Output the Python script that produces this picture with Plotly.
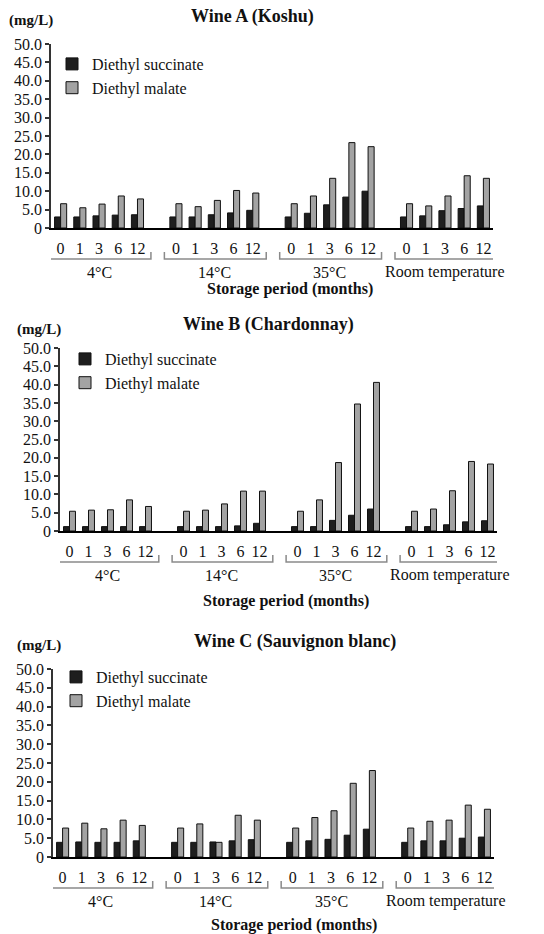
import plotly.graph_objects as go

W, H = 544, 934

months = ["0", "1", "3", "6", "12"]
temps = ["4°C", "14°C", "35°C", "Room temperature"]
series_names = ["Diethyl succinate", "Diethyl malate"]
titles = ["Wine A (Koshu)", "Wine B (Chardonnay)", "Wine C (Sauvignon blanc)"]
y_label = "(mg/L)"
x_label = "Storage period (months)"

# values: 4 temperature groups x 5 months, in order
a_succinate = [3.0, 3.0, 3.3, 3.5, 3.6, 3.0, 3.0, 3.6, 4.1, 4.8, 3.0, 4.0, 6.3, 8.4, 10.0, 3.0, 3.3, 4.7, 5.3, 6.0]
a_malate = [6.6, 5.5, 6.5, 8.7, 7.9, 6.6, 5.8, 7.5, 10.2, 9.5, 6.6, 8.7, 13.5, 23.2, 22.1, 6.6, 6.0, 8.7, 14.2, 13.5]
b_succinate = [1.2, 1.2, 1.2, 1.2, 1.2, 1.2, 1.2, 1.2, 1.4, 2.1, 1.2, 1.2, 2.9, 4.3, 6.0, 1.2, 1.2, 1.7, 2.5, 2.8]
b_malate = [5.4, 5.7, 5.8, 8.5, 6.7, 5.4, 5.7, 7.4, 10.9, 10.9, 5.4, 8.5, 18.7, 34.7, 40.6, 5.4, 6.0, 11.0, 19.0, 18.3]
c_succinate = [3.9, 4.0, 3.9, 3.9, 4.3, 3.9, 3.9, 4.0, 4.3, 4.6, 3.9, 4.3, 4.7, 5.8, 7.4, 3.9, 4.3, 4.3, 5.0, 5.3]
c_malate = [7.7, 9.0, 7.5, 9.8, 8.4, 7.7, 8.8, 3.9, 11.1, 9.8, 7.7, 10.5, 12.3, 19.6, 23.0, 7.7, 9.5, 9.8, 13.8, 12.7]

y_tickvals = [0, 5, 10, 15, 20, 25, 30, 35, 40, 45, 50]
y_ticktext = ["0", "5.0", "10.0", "15.0", "20.0", "25.0", "30.0", "35.0", "40.0", "45.0", "50.0"]

panels_data = [(a_succinate, a_malate), (b_succinate, b_malate), (c_succinate, c_malate)]

# layout geometry in pixels (top, bottom, left, right of plot area)
geo = [
    dict(top=44, bottom=228, left=51, right=493, title_x=252, title_y=16, unit_x=31, unit_y=20,
         leg_x=52, leg_y=47, xl_x=290, xl_off=61),
    dict(top=348, bottom=531, left=60, right=497, title_x=268, title_y=325, unit_x=39, unit_y=329,
         leg_x=65, leg_y=342, xl_x=286, xl_off=70),
    dict(top=669, bottom=857, left=53, right=494, title_x=295, title_y=641, unit_x=39, unit_y=645,
         leg_x=56, leg_y=660, xl_x=294, xl_off=68),
]

FONT = "Liberation Serif"
colors = ["#1e1e1e", "#a3a3a3"]

def px(x):
    return x / W

def py(y):
    return 1 - y / H

# positions: each temperature group of 5 months, one empty slot between groups
positions = [g * (len(months) + 1) + i for g in range(len(temps)) for i in range(len(months))]
tick_text = [m for _ in temps for m in months]

fig = go.Figure()
annotations = []
shapes = []
layout_axes = {}

def ann(text, x, y, xref, size, bold=False):
    return dict(text=("<b>" + text + "</b>") if bold else text, x=x, y=y, xref=xref, yref="paper",
                xanchor="center", yanchor="middle", showarrow=False,
                font=dict(family=FONT, size=size, color="#111"))

for p, (vals, g) in enumerate(zip(panels_data, geo)):
    n = "" if p == 0 else str(p + 1)
    xa, ya = "x" + n, "y" + n
    leg = "legend" + n
    for s, (name, v) in enumerate(zip(series_names, vals)):
        fig.add_trace(go.Bar(
            x=positions, y=v, name=name, xaxis=xa, yaxis=ya, legend=leg,
            marker=dict(color=colors[s], line=dict(color="#111", width=1)),
        ))
    layout_axes["xaxis" + n] = dict(
        domain=[px(g["left"]), px(g["right"])], anchor=ya, range=[-0.5, len(positions) + len(temps) - 1 - 0.5],
        tickvals=positions, ticktext=tick_text, ticks="", showgrid=False, zeroline=False,
        showline=True, linecolor="#000", linewidth=2.2, automargin=False,
        tickfont=dict(family=FONT, size=16, color="#111"), ticklabelstandoff=5,
    )
    layout_axes["yaxis" + n] = dict(
        domain=[py(g["bottom"]), py(g["top"])], anchor=xa, range=[0, 50],
        tickvals=y_tickvals, ticktext=y_ticktext, ticks="outside", ticklen=4, tickwidth=1.5,
        tickcolor="#333", showgrid=False, zeroline=False, showline=True,
        linecolor="#333", linewidth=1.5, automargin=False,
        tickfont=dict(family=FONT, size=16, color="#111"),
    )
    layout_axes[leg] = dict(
        x=px(g["leg_x"]), y=py(g["leg_y"]), xanchor="left", yanchor="top",
        bgcolor="rgba(0,0,0,0)", font=dict(family=FONT, size=16, color="#111"),
        traceorder="normal", itemwidth=30,
    )
    annotations.append(ann(titles[p], px(g["title_x"]), py(g["title_y"]), "paper", 18, True))
    annotations.append(ann(y_label, px(g["unit_x"]), py(g["unit_y"]), "paper", 15, True))
    annotations.append(ann(x_label, px(g["xl_x"]), py(g["bottom"] + g["xl_off"]), "paper", 16, True))
    # group brackets and labels
    for gi, t in enumerate(temps):
        start = gi * (len(months) + 1)
        x0, x1 = start - 0.6, start + len(months) - 0.3
        yb = py(g["bottom"] + 31)
        yt = py(g["bottom"] + 24)
        shapes.append(dict(type="path", xref=xa, yref="paper",
                           path=f"M {x0},{yt} L {x0},{yb} L {x1},{yb} L {x1},{yt}",
                           line=dict(color="#8a8a8a", width=1.5)))
        annotations.append(ann(t, start + (len(months) - 1) / 2, py(g["bottom"] + 44), xa, 16))

fig.update_layout(
    width=W, height=H, margin=dict(l=0, r=0, t=0, b=0, autoexpand=False),
    paper_bgcolor="white", plot_bgcolor="white",
    barmode="group", bargap=0.37, bargroupgap=0,
    annotations=annotations, shapes=shapes,
    **layout_axes,
)

fig.write_html("out.html")
